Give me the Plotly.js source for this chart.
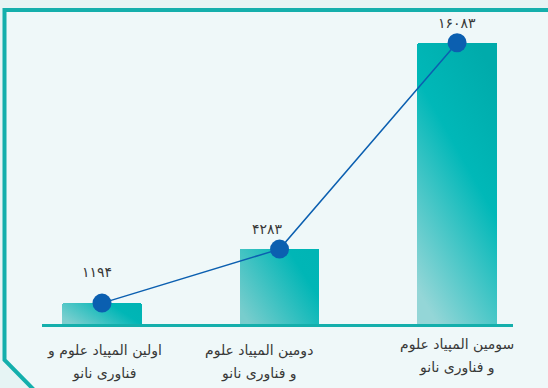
<!DOCTYPE html>
<html>
<head>
<meta charset="utf-8">
<script src="https://cdn.plot.ly/plotly-3.0.1.min.js"></script>
<style>
  html, body { margin: 0; padding: 0; background: #e6f4f4; }
  #chart { width: 548px; height: 388px; }
</style>
</head>
<body>
<div id="chart"></div>
<script>
// ---- data ----
const categoryLabels = [
  "اولین المپیاد علوم و<br>فناوری نانو",
  "دومین المپیاد علوم<br>و فناوری نانو",
  "سومین المپیاد علوم<br>و فناوری نانو"
];
const positions = [0, 1, 2];
const participants = [1194, 4283, 16083];
const valueLabels = ["۱۱۹۴", "۴۲۸۳", "۱۶۰۸۳"];

// ---- styling ----
const teal = "#14afac";
const navy = "#0b5fb0";
const fontFam = "DejaVu Sans, Noto Sans, sans-serif";
const labelShift = [{x: -5, y: 31}, {x: -12, y: 20}, {x: 0, y: 20}];
const tickShift = [{x: 2, y: 0}, {x: -21, y: 0}, {x: 0, y: 6}];

const bars = {
  type: "bar",
  x: positions,
  y: participants,
  width: 0.45,
  marker: { color: "#2fbdbd", line: { width: 0 } },
  hoverinfo: "skip"
};
const line = {
  type: "scatter",
  mode: "lines+markers",
  x: positions,
  y: participants,
  line: { color: navy, width: 1.5 },
  marker: { color: navy, size: 19 },
  hoverinfo: "skip"
};

const annotations = [];
participants.forEach((v, i) => {
  annotations.push({
    x: positions[i], y: v, xref: "x", yref: "y",
    text: valueLabels[i], showarrow: false,
    xshift: labelShift[i].x, yshift: labelShift[i].y,
    font: { family: fontFam, size: 14, color: "#383838" }
  });
  categoryLabels[i].split("<br>").forEach((ln, k) => {
    annotations.push({
      x: positions[i], y: 0, xref: "x", yref: "y",
      yanchor: "middle",
      text: ln, showarrow: false,
      xshift: tickShift[i].x, yshift: -26 - 23 * k + tickShift[i].y,
      font: { family: fontFam, size: 14, color: "#383838" }
    });
  });
});

// frame path (paper coordinates of plot area: x 42..513 px, y 18..324 px)
function px(x) { return ((x - 42) / 471).toFixed(4); }
function py(y) { return ((324 - y) / 306).toFixed(4); }
const framePath = "M" + px(4.5) + "," + py(10) +
  " L" + px(560) + "," + py(10) +
  " L" + px(560) + "," + py(400) +
  " L" + px(44) + "," + py(400) +
  " L" + px(4.5) + "," + py(360) + " Z";

const layout = {
  width: 548, height: 388,
  margin: { l: 42, r: 35, t: 18, b: 64 },
  paper_bgcolor: "#e6f4f4",
  plot_bgcolor: "rgba(0,0,0,0)",
  showlegend: false,
  bargap: 0,
  xaxis: {
    range: [-0.338, 2.315],
    showgrid: false, zeroline: false,
    showline: true, linecolor: teal, linewidth: 3,
    showticklabels: false, ticks: "", fixedrange: true
  },
  yaxis: {
    range: [0, 17500],
    visible: false, showgrid: false, zeroline: false, fixedrange: true
  },
  shapes: [{
    type: "path", xref: "paper", yref: "paper", layer: "below",
    path: framePath,
    fillcolor: "#eff8f9",
    line: { color: teal, width: 4 }
  }],
  annotations: annotations,
  barcornerradius: 2
};

Plotly.newPlot("chart", [bars, line], layout, { staticPlot: true, displayModeBar: false }).then(gd => {
  const svgNS = "http://www.w3.org/2000/svg";
  const svg = gd.querySelector("svg.main-svg");
  let defs = svg.querySelector("defs");
  if (!defs) { defs = document.createElementNS(svgNS, "defs"); svg.insertBefore(defs, svg.firstChild); }
  const grads = [
    { id: "g0", v: [0, 0.7, 1, 0.3], stops: [["0", "#7ccfcf"], ["0.75", "#00b6b6"], ["1", "#00b4b4"]] },
    { id: "g1", v: [0, 0.8, 1, 0.2], stops: [["0", "#78cdcd"], ["0.8", "#00b6b6"], ["1", "#00b5b5"]] },
    { id: "g2", v: [0.25, 1, 0.75, 0], stops: [["0", "#94d6d7"], ["0.6", "#00b8b8"], ["1", "#00abab"]] }
  ];
  grads.forEach(g => {
    const lg = document.createElementNS(svgNS, "linearGradient");
    lg.setAttribute("id", g.id);
    lg.setAttribute("x1", g.v[0]); lg.setAttribute("y1", g.v[1]);
    lg.setAttribute("x2", g.v[2]); lg.setAttribute("y2", g.v[3]);
    g.stops.forEach(s => {
      const st = document.createElementNS(svgNS, "stop");
      st.setAttribute("offset", s[0]);
      st.setAttribute("stop-color", s[1]);
      lg.appendChild(st);
    });
    defs.appendChild(lg);
  });
  gd.querySelectorAll(".barlayer .point path").forEach((p, i) => {
    if (grads[i]) p.style.fill = "url(#" + grads[i].id + ")";
  });
});
</script>
</body>
</html>
